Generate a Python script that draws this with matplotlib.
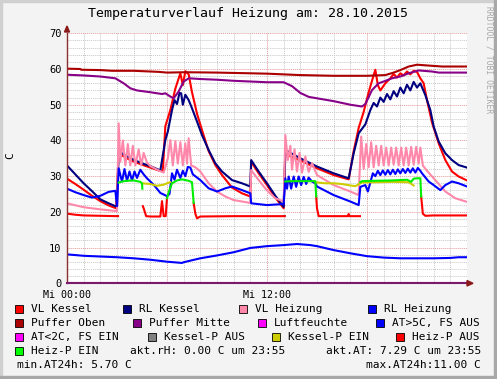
import numpy as np
import matplotlib
matplotlib.use('Agg')
import matplotlib.pyplot as plt
from matplotlib.patches import Rectangle, Polygon

W, H = 497, 379
MONO = 'DejaVu Sans Mono'

# Werte (Stunden, Grad C)
vl_kessel_t = [0, 0.5, 1.0, 1.5, 2.0, 2.5, 2.95, 3.1, 3.5, 4.0, 4.5, 5.0, 5.5, 5.75, 5.9, 6.2, 6.5,
               6.8, 6.95, 7.1, 7.3, 7.5, 7.8, 8.1, 8.5, 8.9, 9.3, 9.9, 10.5, 11.0, 11.05, 11.5, 12.0,
               12.5, 13.0, 13.1, 14.0, 15.0, 16.0, 16.9, 17.2, 17.5, 17.8, 18.1, 18.35, 18.5, 18.65,
               18.8, 19.1, 19.4, 19.6, 19.8, 20.0, 20.2, 20.4, 20.6, 20.8, 21.0, 21.2, 21.4, 21.6,
               21.9, 22.3, 22.7, 23.1, 23.5, 24.0]
vl_kessel = [29.3, 27.8, 26.2, 24.5, 23.0, 21.8, 21.0, 36.5, 35.2, 34.1, 33.2, 32.4, 31.6, 31.4, 44.0,
             48.5, 54.5, 58.8, 55.5, 59.4, 58.5, 53.5, 47.5, 42.9, 37.0, 33.1, 30.3, 26.8, 25.2, 24.3,
             34.0, 30.8, 27.5, 24.0, 21.0, 36.2, 34.4, 32.2, 30.3, 29.1, 37.0, 43.5, 48.0, 53.5, 57.5,
             59.8, 55.5, 54.0, 56.0, 57.4, 58.6, 57.6, 58.8, 58.2, 59.3, 58.5, 59.5, 59.2, 57.4, 56.0,
             51.3, 45.0, 39.2, 34.5, 31.3, 29.9, 28.8]

rl_kessel_t = [0, 0.5, 1.0, 1.5, 2.0, 2.5, 3.0, 3.1, 3.5, 4.0, 4.5, 5.0, 5.6, 5.9, 6.05, 6.3, 6.45,
               6.6, 6.75, 6.85, 6.95, 7.1, 7.3, 7.5, 7.8, 8.1, 8.5, 8.9, 9.3, 9.9, 10.5, 11.0, 11.05,
               11.5, 12.0, 12.5, 13.0, 13.1, 14.0, 15.0, 16.0, 16.9, 17.2, 17.5, 17.9, 18.2, 18.4,
               18.6, 18.8, 19.0, 19.2, 19.4, 19.6, 19.8, 20.0, 20.2, 20.4, 20.6, 20.8, 21.0, 21.2,
               21.5, 21.8, 22.0, 22.3, 22.7, 23.1, 23.5, 24.0]
rl_kessel = [33.0, 30.5, 28.0, 25.8, 23.5, 22.4, 21.4, 37.0, 35.8, 34.6, 33.6, 32.8, 31.6, 40.1, 42.5,
             48.5, 51.3, 50.2, 53.3, 53.2, 50.0, 52.8, 51.3, 49.0, 45.3, 41.5, 37.3, 33.6, 31.3, 28.9,
             28.0, 27.1, 34.5, 31.3, 28.0, 24.5, 21.4, 37.3, 35.0, 32.7, 30.8, 29.4, 36.4, 42.0, 44.5,
             48.5, 50.5, 49.5, 52.0, 50.8, 53.0, 51.5, 53.8, 52.3, 54.8, 53.2, 55.6, 54.0, 56.4, 54.8,
             56.0, 52.7, 48.5, 43.9, 39.7, 36.4, 34.5, 33.1, 32.4]

vl_heizung_t = [0, 1.0, 2.0, 3.0, 3.1, 3.2, 3.35, 3.5, 3.65, 3.8, 3.95, 4.1, 4.3, 4.45, 4.6, 4.8, 5.0,
                5.5, 5.8, 6.05, 6.2, 6.35, 6.5, 6.65, 6.8, 6.95, 7.1, 7.2, 7.3, 7.45, 7.7, 8.0, 8.5,
                9.0, 9.5, 10.0, 10.5, 11.0, 11.05, 11.5, 12.0, 12.5, 13.0, 13.1, 13.25, 13.4, 13.5,
                13.65, 13.8, 13.95, 14.1, 14.3, 14.5, 14.7, 15.0, 16.0, 17.0, 17.5, 17.65, 17.8,
                17.95, 18.1, 18.25, 18.4, 18.55, 18.7, 18.85, 19.0, 19.15, 19.3, 19.45, 19.6, 19.75,
                19.9, 20.05, 20.2, 20.35, 20.5, 20.65, 20.8, 20.95, 21.1, 21.2, 21.35, 21.6, 22.0,
                22.7, 23.3, 24.0]
vl_heizung = [22.4, 21.3, 20.7, 20.2, 44.8, 34.0, 40.0, 33.0, 39.0, 33.0, 38.5, 33.0, 37.5, 33.0, 36.5,
              33.8, 32.8, 31.6, 31.0, 35.0, 40.1, 33.0, 39.8, 33.5, 39.5, 33.0, 39.2, 33.5, 40.6, 33.0,
              32.5, 31.3, 28.0, 25.7, 24.3, 23.3, 22.9, 22.5, 31.7, 28.9, 26.0, 23.8, 22.9, 41.5, 34.5,
              38.5, 31.8, 37.5, 31.3, 36.5, 31.0, 35.5, 31.2, 33.6, 30.3, 27.5, 25.7, 24.7, 41.1, 32.0,
              39.0, 32.5, 39.5, 32.5, 38.5, 33.0, 38.5, 33.0, 38.0, 33.0, 38.0, 33.2, 38.0, 33.0, 38.0,
              33.0, 38.0, 33.0, 38.2, 33.2, 38.2, 33.5, 38.0, 33.0, 31.5, 29.4, 25.7, 23.8, 22.8]

rl_heizung_t = [0, 0.5, 1.0, 1.5, 2.0, 2.5, 2.9, 3.0, 3.1, 3.3, 3.45, 3.6, 3.75, 3.9, 4.05, 4.2, 4.4,
                4.6, 4.8, 5.2, 5.6, 6.0, 6.15, 6.3, 6.45, 6.6, 6.8, 6.95, 7.1, 7.25, 7.4, 7.55, 8.0,
                8.5, 9.0, 9.5, 9.9, 10.5, 11.0, 11.05, 12.0, 13.0, 13.1, 13.2, 13.3, 13.45, 13.6,
                13.75, 13.9, 14.05, 14.2, 14.35, 14.5, 14.7, 14.9, 15.0, 16.0, 17.0, 17.5, 17.6, 17.9,
                18.05, 18.35, 18.5, 18.65, 18.8, 18.95, 19.1, 19.25, 19.4, 19.55, 19.7, 19.85, 20.0,
                20.15, 20.3, 20.45, 20.6, 20.75, 20.9, 21.05, 21.2, 21.3, 21.7, 22.0, 22.4, 22.7,
                23.1, 23.5, 24.0]
rl_heizung = [26.5, 25.5, 24.7, 24.0, 24.5, 25.6, 25.9, 21.6, 32.2, 28.5, 32.0, 28.7, 31.3, 28.8, 31.3,
              29.5, 31.8, 30.5, 29.4, 27.6, 25.3, 24.4, 25.0, 30.8, 29.0, 31.8, 29.5, 31.5, 30.0, 32.6,
              32.4, 30.5, 28.9, 26.6, 25.7, 26.6, 27.1, 26.1, 25.2, 22.4, 21.9, 22.2, 29.4, 26.5, 29.9,
              26.5, 29.9, 27.0, 29.9, 27.5, 29.8, 27.8, 29.6, 28.5, 28.0, 27.1, 24.7, 22.9, 21.9, 27.0,
              27.5, 25.7, 30.8, 30.0, 31.5, 30.3, 31.6, 30.4, 31.7, 30.5, 31.8, 30.6, 31.9, 30.8, 32.0,
              30.9, 32.1, 31.0, 32.2, 31.0, 32.3, 31.5, 30.8, 28.5, 27.5, 26.1, 27.5, 28.5, 28.0, 27.1]

puffer_oben_t = [0, 0.8, 0.85, 2.0, 2.7, 4.0, 5.5, 6.0, 7.1, 9.0, 11.0, 12.0, 14.0, 16.0, 18.0, 19.1,
                 19.6, 20.0, 20.5, 21.0, 21.9, 22.5, 24.0]
puffer_oben = [60.1, 60.0, 59.8, 59.7, 59.5, 59.5, 59.2, 59.0, 59.1, 59.0, 58.8, 58.7, 58.3, 58.1, 58.1,
               58.3, 59.0, 59.7, 60.7, 61.2, 60.9, 60.7, 60.7]

puffer_mitte_t = [0, 1.0, 2.0, 2.9, 3.4, 3.8, 4.2, 5.0, 5.7, 5.9, 6.2, 6.4, 6.7, 7.0, 7.3, 8.0, 9.0,
                  10.0, 11.0, 12.0, 13.0, 13.5, 14.0, 14.5, 15.0, 16.0, 17.0, 17.7, 17.9, 18.3, 18.7,
                  19.0, 19.5, 20.0, 20.5, 21.1, 21.9, 22.3, 24.0]
puffer_mitte = [58.4, 58.2, 57.9, 57.4, 56.0, 54.6, 54.0, 53.5, 53.0, 53.2, 52.3, 51.8, 53.7, 56.5, 57.4,
                57.2, 57.0, 56.7, 56.5, 56.3, 56.3, 55.2, 53.3, 52.2, 51.8, 51.0, 50.0, 49.5, 50.2, 54.1,
                56.0, 56.5, 57.4, 57.9, 58.8, 59.6, 59.3, 59.0, 59.0]

luftfeuchte_t = [0, 24.0]
luftfeuchte = [0.0, 0.0]

aussen_t = [0, 1, 2, 3, 4, 5, 6, 6.9, 7.0, 8, 9, 10, 11, 12, 13, 13.8, 14.6, 15, 16, 17, 18, 19, 20,
            21, 22, 23, 23.5, 24.0]
aussen = [8.1, 7.7, 7.5, 7.3, 7.0, 6.6, 6.05, 5.7, 5.9, 7.0, 7.8, 8.7, 9.9, 10.4, 10.7, 11.0, 10.7,
          10.4, 9.3, 8.4, 7.6, 7.2, 7.0, 7.0, 7.0, 7.1, 7.3, 7.3]

# Pumpenstatus-Linien (Segmente)
heizp_aus_t = [[0, 0.5, 1.0, 2.0, 3.0, 3.06],
               [4.55, 4.6, 4.75, 5.0, 5.6, 5.7, 5.8, 5.92, 6.0],
               [7.6, 7.7, 7.8, 8.0, 10.0, 12.0, 13.06],
               [14.95, 15.0, 15.1, 16.0, 16.85, 16.9, 16.95, 17.58],
               [21.25, 21.35, 21.5, 22.0, 23.0, 24.0]]
heizp_aus = [[19.5, 19.2, 19.0, 18.9, 18.8, 18.8],
             [21.6, 21.0, 18.8, 18.7, 18.7, 23.0, 18.8, 18.8, 23.8],
             [22.5, 19.5, 18.2, 18.7, 18.8, 18.8, 18.8],
             [24.3, 21.0, 18.8, 18.8, 18.8, 19.4, 18.8, 18.8],
             [24.3, 19.5, 18.9, 19.0, 19.0, 19.0]]
heizp_ein_t = [[3.1, 3.3, 3.6, 4.0, 4.4, 4.5, 4.52],
               [6.0, 6.1, 6.3, 6.6, 6.9, 7.3, 7.5, 7.6],
               [13.1, 13.5, 14.0, 14.5, 14.9, 14.95],
               [17.6, 17.7, 18.5, 19.5, 20.4, 20.65, 20.8, 21.0, 21.2, 21.25]]
heizp_ein = [[28.2, 28.5, 28.7, 28.8, 28.4, 28.0, 26.5],
             [23.8, 25.5, 28.0, 28.8, 29.1, 28.7, 28.3, 22.5],
             [28.5, 28.6, 28.6, 28.6, 28.6, 24.3],
             [28.3, 28.6, 28.7, 28.8, 29.0, 28.4, 29.3, 29.4, 29.4, 24.3]]
kesselp_ein_t = [[4.5, 5.0, 5.4, 5.8, 6.0, 6.2],
                 [14.9, 15.5, 16.0, 16.5, 17.0, 17.3, 17.6],
                 [17.6, 18.5, 19.5, 20.5, 20.8]]
kesselp_ein = [[28.0, 27.8, 27.3, 27.6, 28.0, 28.3],
               [28.3, 28.0, 28.0, 27.8, 27.4, 27.2, 28.0],
               [28.2, 28.3, 28.4, 28.3, 27.4]]
kesselp_aus_t = [[3.0, 3.08], [13.0, 13.08]]
kesselp_aus = [[18.9, 18.9], [18.9, 18.9]]

legend_rows = [
    [('VL Kessel', '#FF0000', 15), ('RL Kessel', '#000080', 123),
     ('VL Heizung', '#FF88AA', 239), ('RL Heizung', '#0000FF', 368)],
    [('Puffer Oben', '#AA0000', 15), ('Puffer Mitte', '#880088', 133),
     ('Luftfeuchte', '#FF00FF', 258), ('AT>5C, FS AUS', '#0000FF', 376)],
    [('AT<2C, FS EIN', '#FF00FF', 15), ('Kessel-P AUS', '#808080', 148),
     ('Kessel-P EIN', '#CCCC00', 272), ('Heiz-P AUS', '#FF0000', 396)],
    [('Heiz-P EIN', '#00FF00', 15)],
]

fig = plt.figure(figsize=(W / 100, H / 100), dpi=100, facecolor='#F3F3F3')
ax = fig.add_axes([67 / W, 1 - 283.3 / H, 400 / W, 250 / H])
ax.set_facecolor('white')

lw = 1.5
ax.plot(vl_kessel_t, vl_kessel, color='#FF0000', lw=lw)
ax.plot(rl_kessel_t, rl_kessel, color='#000080', lw=lw)
ax.plot(vl_heizung_t, vl_heizung, color='#FF88AA', lw=lw)
ax.plot(rl_heizung_t, rl_heizung, color='#0000FF', lw=lw)
ax.plot(puffer_oben_t, puffer_oben, color='#AA0000', lw=lw)
ax.plot(puffer_mitte_t, puffer_mitte, color='#880088', lw=lw)
ax.plot(luftfeuchte_t, luftfeuchte, color='#FF00FF', lw=lw)
ax.plot(aussen_t, aussen, color='#0000FF', lw=lw)
for tt, vv in zip(kesselp_aus_t, kesselp_aus):
    ax.plot(tt, vv, color='#808080', lw=lw)
for tt, vv in zip(kesselp_ein_t, kesselp_ein):
    ax.plot(tt, vv, color='#CCCC00', lw=lw)
for tt, vv in zip(heizp_aus_t, heizp_aus):
    ax.plot(tt, vv, color='#FF0000', lw=lw)
for tt, vv in zip(heizp_ein_t, heizp_ein):
    ax.plot(tt, vv, color='#00EE00', lw=lw)

ax.set_xlim(0, 24)
ax.set_ylim(0, 70)
ax.set_xticks([0, 6, 12, 18, 24])
ax.set_xticklabels(['Mi 00:00', '', 'Mi 12:00', '', ''])
ax.set_xticks(np.arange(0, 25, 1), minor=True)
ax.set_yticks(np.arange(0, 71, 10))
ax.set_yticks(np.arange(0, 71, 2), minor=True)
ax.grid(which='minor', color='#C8C8C8', lw=0.7, ls=(0, (1, 1)))
ax.grid(which='major', color='#E49A9A', lw=0.7, ls=(0, (1, 1)))
ax.set_axisbelow(True)
ax.tick_params(which='both', length=0)
ax.tick_params(axis='y', pad=4, labelsize=7.5)
ax.tick_params(axis='x', pad=4.5, labelsize=7.2)
for lab in ax.get_xticklabels() + ax.get_yticklabels():
    lab.set_family(MONO)
for s in ['top', 'right']:
    ax.spines[s].set_visible(False)
ax.spines['left'].set_color('#8B3030')
ax.spines['bottom'].set_color('#7A1A6A')
ax.spines['left'].set_linewidth(1.0)
ax.spines['bottom'].set_linewidth(1.5)


def fx(x):
    return x / W


def fy(y):
    return 1 - y / H


# Pfeile an den Achsen
fig.add_artist(Polygon([(fx(64.5), fy(32)), (fx(69.5), fy(32)), (fx(67), fy(26))],
                       closed=True, color='#8B1A1A', transform=fig.transFigure))
fig.add_artist(Polygon([(fx(467), fy(280.5)), (fx(467), fy(286)), (fx(473), fy(283.3))],
                       closed=True, color='#8B1A1A', transform=fig.transFigure))

# Rahmen
fig.add_artist(Rectangle((0, 0), fx(2), 1, color='#D0D0D0', transform=fig.transFigure))
fig.add_artist(Rectangle((0, fy(2)), 1, fy(0) - fy(2), color='#D0D0D0', transform=fig.transFigure))
fig.add_artist(Rectangle((fx(494), 0), fx(3), 1, color='#A8A8A8', transform=fig.transFigure))
fig.add_artist(Rectangle((0, 0), 1, 3 / H, color='#A8A8A8', transform=fig.transFigure))

fig.text(fx(248), fy(14), 'Temperaturverlauf Heizung am: 28.10.2015', family=MONO,
         fontsize=9.5, ha='center', va='center')
fig.text(fx(10), fy(156), 'C', family=MONO, fontsize=8, rotation=90, ha='center', va='center')
fig.text(fx(489), fy(60), 'RRDTOOL / TOBI OETIKER', family=MONO, fontsize=5.8,
         rotation=270, ha='center', va='center', color='#A8A8A8')

row_y = [309, 323.3, 337, 351, 365]
for ry, row in zip(row_y, legend_rows):
    for name, col, bx in row:
        fig.add_artist(Rectangle((fx(bx), fy(ry + 4)), 8 / W, 8 / H, facecolor=col,
                                 edgecolor='black', lw=0.6, transform=fig.transFigure))
        fig.text(fx(bx + 16), fy(ry), name, family=MONO, fontsize=8, ha='left', va='center')

fig.text(fx(130), fy(351), 'akt.rH: 0.00 C um 23:55', family=MONO, fontsize=8, ha='left', va='center')
fig.text(fx(481), fy(351), 'akt.AT: 7.29 C um 23:55', family=MONO, fontsize=8, ha='right', va='center')
fig.text(fx(17), fy(365), 'min.AT24h: 5.70 C', family=MONO, fontsize=8, ha='left', va='center')
fig.text(fx(481), fy(365), 'max.AT24h:11.00 C', family=MONO, fontsize=8, ha='right', va='center')

fig.savefig('out.png', dpi=100, facecolor=fig.get_facecolor())
